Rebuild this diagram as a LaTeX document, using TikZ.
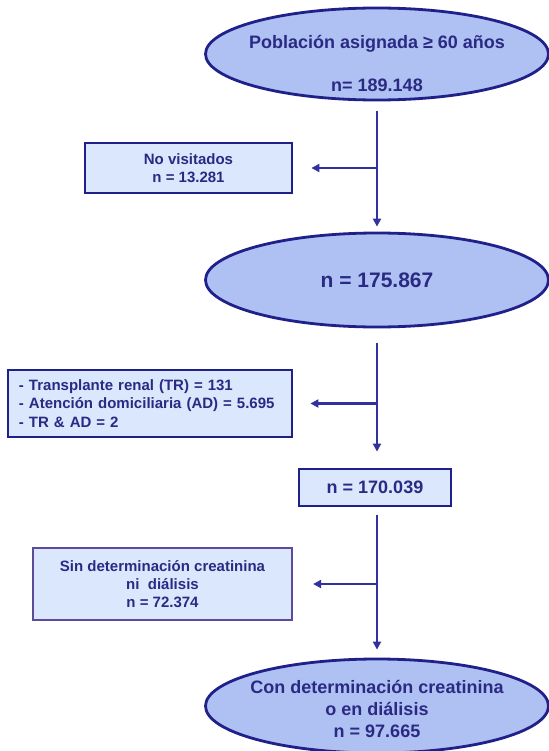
\documentclass[tikz,border=0pt]{standalone}
\usepackage{fontspec}
\setmainfont{Liberation Sans}
\usepackage{tikz}
\usetikzlibrary{shapes.geometric,arrows.meta}
\definecolor{navy}{HTML}{20208A}
\definecolor{ink}{HTML}{2A2A84}
\definecolor{lila}{HTML}{5E4A9A}
\definecolor{ellfill}{HTML}{AFC0F2}
\definecolor{boxfill}{HTML}{DAE7FC}
\definecolor{flowblue}{HTML}{32329E}

\begin{document}
\begin{tikzpicture}[x=1bp,y=-1bp,
ell/.style={ellipse,draw=navy,line width=2.8bp,fill=ellfill,inner sep=0pt,minimum width=343bp,minimum height=94bp},
box/.style={rectangle,draw=navy,line width=2.8bp,fill=boxfill,inner sep=0pt,text=ink,align=center,font=\bfseries\fontsize{15bp}{17.5bp}\selectfont},
lbl/.style={text=ink,align=center,font=\bfseries\fontsize{18bp}{22bp}\selectfont},
flow/.style={draw=flowblue,line width=2.2bp,-{Triangle[length=8bp,width=8bp]}}]
\useasboundingbox(0,0) rectangle (549,751);
\fill[white](0,0) rectangle (549,751);
\node[ell,minimum height=92bp](pob) at (377,54){};
\node[lbl](pobtxt) at (377,63.5){Población asignada ≥ 60 años\\[21bp]n= 189.148};
\node[box,minimum width=207bp,minimum height=50bp](novis) at (188.5,168){No visitados\\n = 13.281};
\node[ell](vis) at (377,280){};
\node[lbl,font=\bfseries\fontsize{21bp}{25bp}\selectfont](vistxt) at (377,280){n = 175.867};
\node[box,minimum width=284bp,minimum height=67bp,text width=262bp,align=left,font=\bfseries\fontsize{15bp}{18.5bp}\selectfont](excl) at (150,403.5){- Transplante renal (TR) = 131\\- Atención domiciliaria (AD) = 5.695\\- TR \& AD = 2};
\node[box,minimum width=152bp,minimum height=37bp,font=\bfseries\fontsize{18bp}{22bp}\selectfont](sel) at (375,487.5){n = 170.039};
\node[box,draw=lila,line width=2.2bp,minimum width=259bp,minimum height=72bp,font=\bfseries\fontsize{15bp}{18bp}\selectfont](sincr) at (162.5,584){Sin determinación creatinina\\ni \ diálisis\\n = 72.374};
\node[ell](concr) at (377,706){};
\node[lbl](concrtxt) at (377,709){Con determinación creatinina\\o en diálisis\\n = 97.665};

\coordinate(j1) at (pob.south |- novis.east);
\coordinate(j2) at (vis.south |- excl.east);
\coordinate(j3) at (vis.south |- sincr.east);
\draw[flow,shorten <=10bp,shorten >=5bp](pob.south)--(vis.north);
\draw[flow,shorten >=18bp](j1)--(novis.east);
\draw[flow,shorten <=15bp,shorten >=16bp](vis.south)--(vis.south |- sel.north);
\draw[flow,shorten >=17bp](j2)--(excl.east);
\draw[flow,shorten <=8bp,shorten >=8bp](vis.south |- sel.south)--(concr.north);
\draw[flow,shorten >=20bp](j3)--(sincr.east);
\end{tikzpicture}
\end{document}
